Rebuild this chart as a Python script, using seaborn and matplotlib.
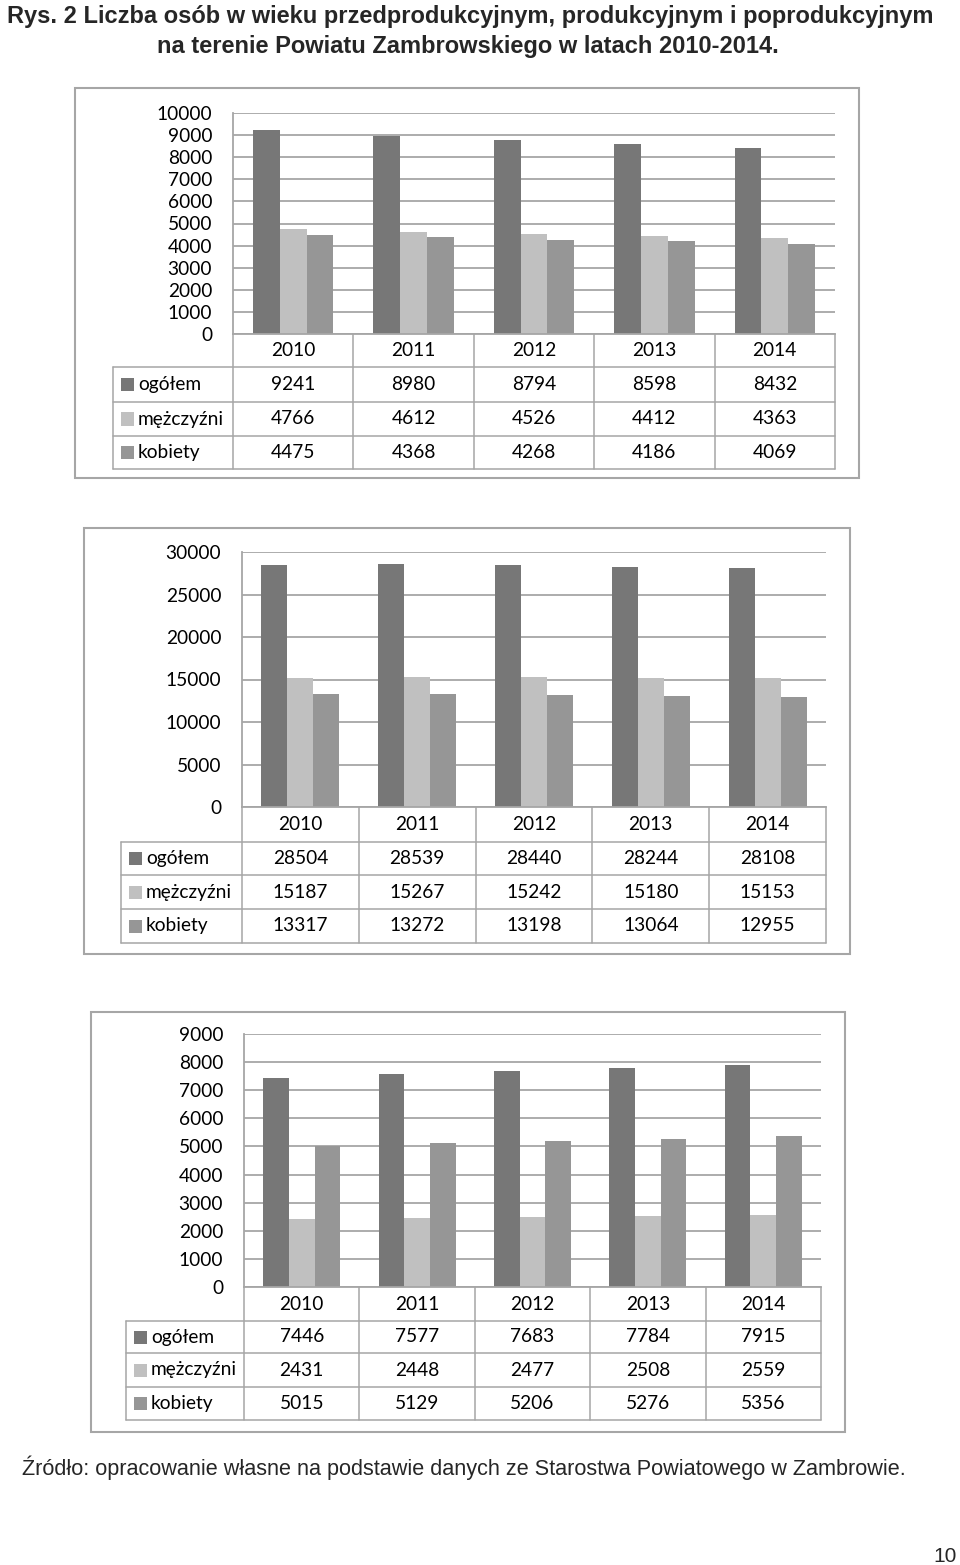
import matplotlib
matplotlib.use("Agg")
import matplotlib.pyplot as plt
from matplotlib.lines import Line2D
from matplotlib.patches import Rectangle
from matplotlib import transforms
import seaborn as sns
import pandas as pd

# ---------------- data ----------------
years = ["2010", "2011", "2012", "2013", "2014"]
series_names = ["ogółem", "mężczyźni", "kobiety"]

# chart 1: przedprodukcyjny
pre_ogolem = [9241, 8980, 8794, 8598, 8432]
pre_mezczyzni = [4766, 4612, 4526, 4412, 4363]
pre_kobiety = [4475, 4368, 4268, 4186, 4069]

# chart 2: produkcyjny
prod_ogolem = [28504, 28539, 28440, 28244, 28108]
prod_mezczyzni = [15187, 15267, 15242, 15180, 15153]
prod_kobiety = [13317, 13272, 13198, 13064, 12955]

# chart 3: poprodukcyjny
post_ogolem = [7446, 7577, 7683, 7784, 7915]
post_mezczyzni = [2431, 2448, 2477, 2508, 2559]
post_kobiety = [5015, 5129, 5206, 5276, 5356]

title_lines = ["Rys. 2 Liczba osób w wieku przedprodukcyjnym, produkcyjnym i poprodukcyjnym",
               "na terenie Powiatu Zambrowskiego w latach 2010-2014."]
source_text = "Źródło: opracowanie własne na podstawie danych ze Starostwa Powiatowego w Zambrowie."
page_number = "10"

# ---------------- style ----------------
colors = ["#777777", "#C0C0C0", "#969696"]
line_col = "#A6A6A6"
W, H = 960, 1565

sns.set_theme(style="white")
plt.rcParams["font.family"] = ["Lato", "DejaVu Sans"]

fig = plt.figure(figsize=(W / 100, H / 100), dpi=100)
fig.patch.set_facecolor("white")


def fx(x):
    return x / W


def fy(y):
    return 1 - y / H


charts = [
    dict(vals=[pre_ogolem, pre_mezczyzni, pre_kobiety], ymax=10000, step=1000,
         L=233, R=835, T=113, B=334, rows=[334, 367, 402, 436, 469], legL=113,
         frame=(75, 88, 859, 478)),
    dict(vals=[prod_ogolem, prod_mezczyzni, prod_kobiety], ymax=30000, step=5000,
         L=242, R=826, T=552, B=807, rows=[807, 842, 875, 909, 943], legL=121,
         frame=(84, 528, 850, 954)),
    dict(vals=[post_ogolem, post_mezczyzni, post_kobiety], ymax=9000, step=1000,
         L=244, R=821, T=1034, B=1287, rows=[1287, 1321, 1353, 1387, 1420], legL=126,
         frame=(91, 1012, 845, 1432)),
]

FS = 13.8

for ch in charts:
    # outer frame
    x0, y0, x1, y1 = ch["frame"]
    fig.add_artist(Rectangle((fx(x0), fy(y1)), (x1 - x0) / W, (y1 - y0) / H,
                             transform=fig.transFigure, fill=False,
                             edgecolor=line_col, lw=1.5))

    L, R, T, B = ch["L"], ch["R"], ch["T"], ch["B"]
    ax = fig.add_axes([fx(L), fy(B), (R - L) / W, (B - T) / H])

    df = pd.DataFrame({
        "rok": years * 3,
        "kategoria": sum([[n] * len(years) for n in series_names], []),
        "wartosc": sum(ch["vals"], []),
    })
    sns.barplot(data=df, x="rok", y="wartosc", hue="kategoria", order=years,
                hue_order=series_names, palette=colors, saturation=1,
                width=0.667, gap=0, dodge=True, legend=False, ax=ax,
                linewidth=0, errorbar=None)

    ax.set_xlim(-0.5, len(years) - 0.5)
    ax.set_ylim(0, ch["ymax"])
    ax.set_yticks(range(0, ch["ymax"] + 1, ch["step"]))
    ax.set_yticklabels([str(v) for v in range(0, ch["ymax"] + 1, ch["step"])],
                       fontsize=FS, color="black")
    ax.tick_params(axis="y", length=0, pad=15)
    ax.set_xticks([])
    ax.set_xlabel("")
    ax.set_ylabel("")
    ax.yaxis.grid(True, color=line_col, lw=1.3)
    ax.set_axisbelow(True)
    for s in ["top", "right"]:
        ax.spines[s].set_visible(False)
    for s in ["left", "bottom"]:
        ax.spines[s].set_color(line_col)
        ax.spines[s].set_linewidth(1.3)
    ax.set_facecolor("none")

    # ---------- data table ----------
    rows = ch["rows"]
    legL = ch["legL"]
    tr = transforms.blended_transform_factory(ax.transData, fig.transFigure)
    n = len(years)
    # vertical column boundaries
    for i in range(n + 1):
        fig.add_artist(Line2D([i - 0.5, i - 0.5], [fy(rows[0]), fy(rows[-1])],
                              transform=tr, color=line_col, lw=1.1))
    # horizontal row lines
    for r in rows[1:]:
        fig.add_artist(Line2D([fx(legL), fx(R)], [fy(r), fy(r)],
                              transform=fig.transFigure, color=line_col, lw=1.1))
    fig.add_artist(Line2D([fx(legL), fx(legL)], [fy(rows[1]), fy(rows[-1])],
                          transform=fig.transFigure, color=line_col, lw=1.1))
    # year header
    yc = fy((rows[0] + rows[1]) / 2)
    for i, yr in enumerate(years):
        fig.text(i, yc, yr, transform=tr, ha="center", va="center",
                 fontsize=FS, color="black")
    # series rows
    for k, (name, vals) in enumerate(zip(series_names, ch["vals"])):
        top, bot = rows[k + 1], rows[k + 2]
        yc = fy((top + bot) / 2)
        ks = 13
        fig.add_artist(Rectangle((fx(legL + 8), fy((top + bot) / 2 + ks / 2)),
                                 ks / W, ks / H, transform=fig.transFigure,
                                 facecolor=colors[k], edgecolor="none"))
        fig.text(fx(legL + 25), yc, name, ha="left", va="center",
                 fontsize=FS, color="black")
        for i, v in enumerate(vals):
            fig.text(i, yc, str(v), transform=tr, ha="center", va="center",
                     fontsize=FS, color="black")

# ---------- title, source, page number ----------
fig.text(fx(470), fy(23), title_lines[0], ha="center", va="baseline",
         fontsize=17, fontweight="bold", family=["Liberation Sans", "DejaVu Sans"])
fig.text(fx(468), fy(53), title_lines[1], ha="center", va="baseline",
         fontsize=17, fontweight="bold", family=["Liberation Sans", "DejaVu Sans"])
fig.text(fx(22), fy(1475), source_text, ha="left", va="baseline",
         fontsize=15.6, family=["Liberation Sans", "DejaVu Sans"])
fig.text(fx(957), fy(1562), page_number, ha="right", va="baseline",
         fontsize=15, family=["Liberation Sans", "DejaVu Sans"])

fig.savefig("out.png", dpi=100, facecolor="white")
